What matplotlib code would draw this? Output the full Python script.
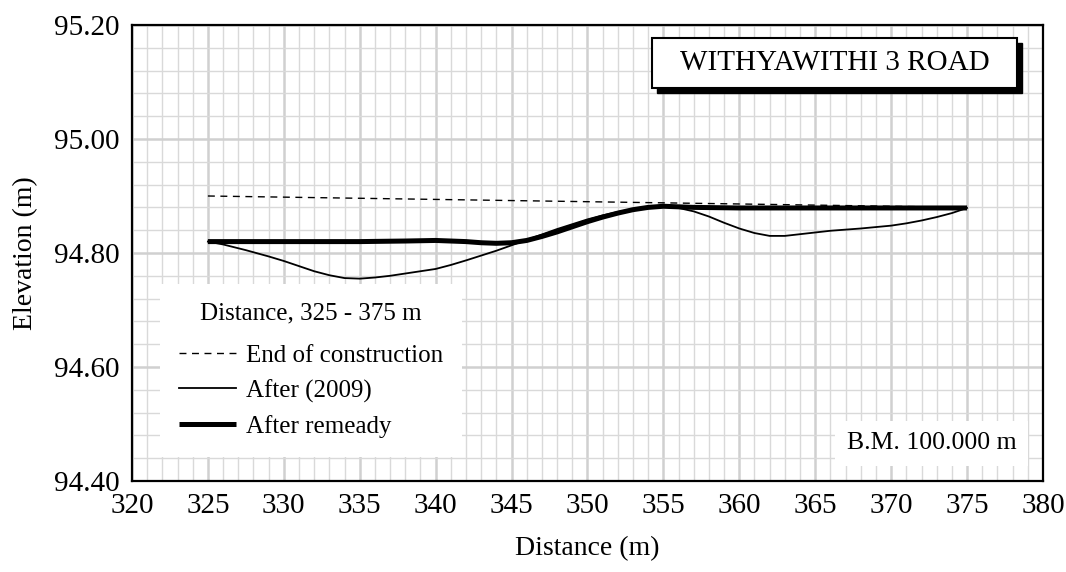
import numpy as np
import matplotlib
matplotlib.use("Agg")
import matplotlib.pyplot as plt
from matplotlib.patches import Rectangle
from matplotlib.ticker import MultipleLocator, FormatStrFormatter

plt.rcParams['font.family'] = ['Liberation Serif', 'DejaVu Serif']

# end of construction (design grade)
dist_design = [325, 375]
elev_design = [94.900, 94.880]

# survey in 2009
dist_2009 = [325, 326, 327.5, 329, 330, 331, 332, 333, 334, 335, 336, 337,
             338, 339, 340, 341, 342, 344, 346, 348, 350, 351, 352, 353, 354,
             355, 356, 357, 358, 359, 360, 361, 362, 363, 364, 366, 368, 370,
             371, 372, 373, 374, 375]
elev_2009 = [94.820, 94.815, 94.805, 94.794, 94.786, 94.777, 94.768, 94.761,
             94.756, 94.755, 94.757, 94.760, 94.764, 94.768, 94.772, 94.779,
             94.787, 94.804, 94.823, 94.842, 94.859, 94.866, 94.872, 94.877,
             94.880, 94.881, 94.879, 94.873, 94.864, 94.853, 94.843, 94.835,
             94.830, 94.830, 94.833, 94.839, 94.843, 94.848, 94.852, 94.857,
             94.863, 94.870, 94.879]

# after remedial work
dist_fix = [325, 330, 335, 338, 340, 342, 343, 344, 345, 346, 347, 348, 349,
            350, 351, 352, 353, 354, 355, 356, 357, 360, 365, 370, 375]
elev_fix = [94.820, 94.820, 94.820, 94.821, 94.822, 94.820, 94.818, 94.817,
            94.818, 94.822, 94.829, 94.837, 94.846, 94.855, 94.863, 94.870,
            94.876, 94.880, 94.882, 94.881, 94.880, 94.879, 94.879, 94.879,
            94.879]

fig = plt.figure(figsize=(10.66, 5.72), dpi=100)
ax = fig.add_axes([0.1238, 0.1591, 0.8546, 0.7972])

ax.plot(dist_design, elev_design, color='black', lw=1.0, dashes=(5, 4),
        label='End of construction')
ax.plot(dist_2009, elev_2009, color='black', lw=1.3, label='After (2009)')
ax.plot(dist_fix, elev_fix, color='black', lw=3.6, solid_capstyle='butt',
        label='After remeady')

ax.set_xlim(320, 380)
ax.set_ylim(94.40, 95.20)
ax.xaxis.set_major_locator(MultipleLocator(5))
ax.xaxis.set_minor_locator(MultipleLocator(1))
ax.yaxis.set_major_locator(MultipleLocator(0.2))
ax.yaxis.set_minor_locator(MultipleLocator(0.04))
ax.yaxis.set_major_formatter(FormatStrFormatter('%.2f'))

ax.grid(which='major', color='#d0d0d0', lw=1.8)
ax.grid(which='minor', color='#d9d9d9', lw=1.0)
ax.set_axisbelow(True)
ax.tick_params(which='both', length=0, labelsize=21, pad=9)
for sp in ax.spines.values():
    sp.set_linewidth(1.6)
    sp.set_color('black')

ax.set_xlabel('Distance (m)', fontsize=20, labelpad=12)
ax.set_ylabel('Elevation (m)', fontsize=20, labelpad=11)

leg = ax.legend(title='Distance, 325 - 375 m', loc='lower left',
                bbox_to_anchor=(0.031, 0.053), borderaxespad=0,
                fontsize=18, title_fontsize=18, frameon=True, fancybox=False,
                handlelength=2.3, handletextpad=0.4, labelspacing=0.5,
                borderpad=0.75)
leg.get_frame().set_facecolor('white')
leg.get_frame().set_edgecolor('none')
leg.get_frame().set_alpha(1)
leg._legend_box.sep = 14

# road name box with drop shadow
ax.add_patch(Rectangle((0.5763, 0.8498), 0.4009, 0.1097, transform=ax.transAxes,
                       facecolor='black', edgecolor='black', zorder=5))
ax.add_patch(Rectangle((0.5708, 0.8618), 0.4009, 0.1097, transform=ax.transAxes,
                       facecolor='white', edgecolor='black', lw=1.5, zorder=6))
ax.text(0.7712, 0.9167, 'WITHYAWITHI 3 ROAD', transform=ax.transAxes,
        ha='center', va='center', fontsize=21, zorder=7)

ax.text(0.878, 0.083, 'B.M. 100.000 m', transform=ax.transAxes,
        ha='center', va='center', fontsize=18.5, zorder=6,
        bbox=dict(boxstyle='square,pad=0.45', facecolor='white',
                  edgecolor='none'))

fig.savefig('out.png', dpi=100)
plt.close()
